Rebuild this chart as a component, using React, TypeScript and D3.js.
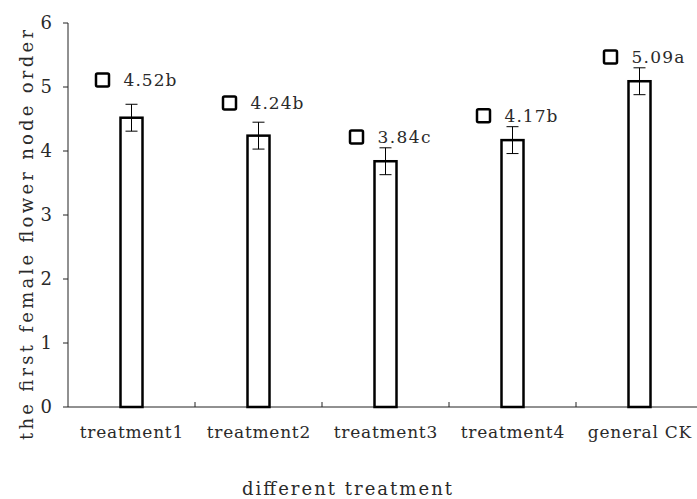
import React from "react";
import * as d3 from "d3";

const categories = ["treatment1", "treatment2", "treatment3", "treatment4", "general CK"];
const values = [4.52, 4.24, 3.84, 4.17, 5.09];
const errors = [0.21, 0.21, 0.21, 0.21, 0.21];
const letters = ["b", "b", "c", "b", "a"];
const yTicks = [0, 1, 2, 3, 4, 5, 6];

// label placement offsets above bar values (data units)
const labelLift = [0.59, 0.51, 0.38, 0.38, 0.38];

const W = 697;
const H = 499;
const left = 68;
const top = 23;
const bottom = 407;
const right = 703;
const FONT = "DejaVu Serif, serif";
const CHAR = 10.35; // monospace-like advance of the reference font

export default function App() {
  const x = d3.scaleBand<string>().domain(categories).range([left, right]).padding(0);
  const y = d3.scaleLinear().domain([0, 6]).range([bottom, top]);
  const bw = 22;
  const color = "#000";
  const axisColor = "#222";
  const txt = "#2a2a2a";

  return (
    <svg
      width={W}
      height={H}
      style={{ position: "absolute", left: 0, top: 0, background: "#fff", fontFamily: FONT }}
    >
      {/* y axis */}
      <line x1={left} x2={left} y1={top} y2={bottom} stroke={axisColor} strokeWidth={1} />
      {yTicks.map((t) => (
        <g key={t}>
          <line x1={left - 5} x2={left} y1={y(t)} y2={y(t)} stroke={axisColor} strokeWidth={1} />
          <text x={left - 16} y={y(t)} dy="0.36em" textAnchor="end" fontSize={18} fill={txt}>
            {t}
          </text>
        </g>
      ))}
      {/* x axis */}
      <line x1={left} x2={right} y1={bottom} y2={bottom} stroke={axisColor} strokeWidth={1} />
      {categories.slice(1).map((c) => (
        <line key={c} x1={x(c)!} x2={x(c)!} y1={bottom} y2={bottom - 5} stroke={axisColor} strokeWidth={1} />
      ))}
      {categories.map((c) => (
        <text
          key={c}
          x={x(c)! + x.bandwidth() / 2}
          y={438}
          textAnchor="middle"
          fontSize={17}
          fill={txt}
          textLength={c.length * CHAR}
          lengthAdjust="spacing"
        >
          {c}
        </text>
      ))}
      {/* bars */}
      {categories.map((c, i) => {
        const cx = x(c)! + x.bandwidth() / 2;
        const v = values[i];
        const e = errors[i];
        const label = d3.format(".2f")(v) + letters[i];
        return (
          <g key={c}>
            <rect
              x={cx - bw / 2}
              y={y(v)}
              width={bw}
              height={bottom - y(v)}
              fill="#fff"
              stroke={color}
              strokeWidth={2.5}
            />
            <line x1={cx} x2={cx} y1={y(v + e)} y2={y(v - e)} stroke={color} strokeWidth={1} />
            <line x1={cx - 6} x2={cx + 6} y1={y(v + e)} y2={y(v + e)} stroke={color} strokeWidth={1} />
            <line x1={cx - 6} x2={cx + 6} y1={y(v - e)} y2={y(v - e)} stroke={color} strokeWidth={1} />
            {/* label with legend key */}
            <rect
              x={cx - 29 - 6.5}
              y={y(v + labelLift[i]) - 6.5}
              width={13}
              height={13}
              rx={1.5}
              fill="#fff"
              stroke={color}
              strokeWidth={2.5}
            />
            <text
              x={cx - 8}
              y={y(v + labelLift[i])}
              dy="0.36em"
              fontSize={17}
              fill={txt}
              textLength={label.length * 10.6}
              lengthAdjust="spacing"
            >
              {label}
            </text>
          </g>
        );
      })}
      {/* axis titles */}
      <text
        transform={`translate(33, 235) rotate(-90)`}
        textAnchor="middle"
        fontSize={18}
        fill={txt}
        textLength={410}
        lengthAdjust="spacing"
      >
        the first female flower node order
      </text>
      <text
        x={347}
        y={495}
        textAnchor="middle"
        fontSize={18}
        fill={txt}
        textLength={210}
        lengthAdjust="spacing"
      >
        different treatment
      </text>
    </svg>
  );
}
